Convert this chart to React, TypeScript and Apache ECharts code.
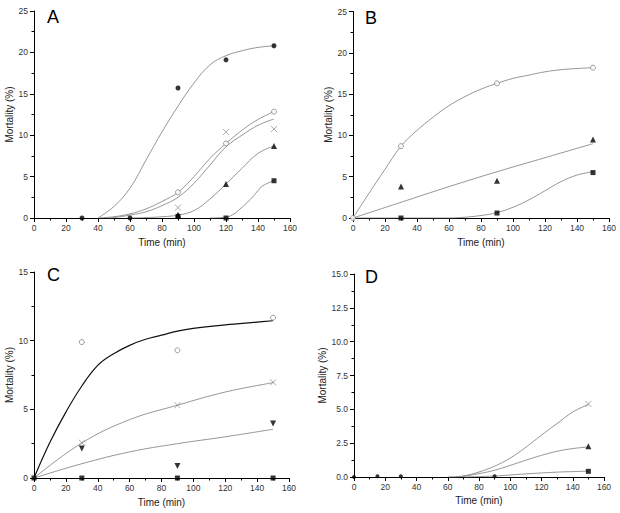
import React, { useEffect, useRef } from "react";
import * as echarts from "echarts";

const panelLetters = ["A", "B", "C", "D"];
const xTitle = "Time (min)";
const yTitle = "Mortality (%)";
const yMax = [25, 25, 15, 15];
const yInterval = [5, 5, 5, 2.5];

// ---------- Panel A ----------
const aFilledCircleT = [30, 60, 90, 120, 150];
const aFilledCircle = [0, 0, 15.7, 19.1, 20.8];
const aOpenCircleT = [90, 120, 150];
const aOpenCircle = [3.1, 9.0, 12.85];
const aCrossT = [90, 120, 150];
const aCross = [1.25, 10.4, 10.75];
const aTriangleT = [90, 120, 150];
const aTriangle = [0.4, 4.1, 8.7];
const aSquareT = [90, 120, 150];
const aSquare = [0.2, 0, 4.5];

const aFitFilledT = [40, 50, 60, 70, 80, 90, 100, 110, 120, 130, 140, 150];
const aFitFilled = [0, 1.4, 3.6, 7.0, 10.4, 13.5, 16.3, 18.5, 19.6, 20.2, 20.6, 20.8];
const aFitOpenT = [40, 50, 60, 70, 80, 90, 100, 110, 120, 130, 140, 150];
const aFitOpen = [0, 0.15, 0.5, 1.1, 2.0, 3.1, 5.0, 7.2, 9.0, 10.6, 11.9, 12.85];
const aFitCrossT = [45, 50, 60, 70, 80, 90, 100, 110, 120, 130, 140, 150];
const aFitCross = [0, 0.05, 0.35, 0.75, 1.5, 2.5, 4.2, 6.4, 8.6, 10.0, 11.2, 11.95];
const aFitTriangleT = [60, 70, 80, 90, 100, 110, 120, 130, 140, 150];
const aFitTriangle = [0, 0.05, 0.15, 0.35, 0.9, 2.3, 4.1, 6.0, 7.8, 8.7];
const aFitSquareT = [110, 120, 125, 130, 135, 140, 143, 150];
const aFitSquare = [0, 0.1, 0.5, 1.3, 2.2, 3.3, 3.9, 4.5];

// ---------- Panel B ----------
const bOpenT = [0, 30, 90, 150];
const bOpen = [0, 8.7, 16.3, 18.2];
const bTriangleT = [30, 90, 150];
const bTriangle = [3.8, 4.5, 9.5];
const bSquareT = [30, 90, 150];
const bSquare = [0, 0.6, 5.5];

const bFitOpenT = [0, 10, 20, 30, 40, 50, 60, 70, 80, 90, 100, 110, 120, 130, 140, 150];
const bFitOpen = [0, 3.0, 5.9, 8.7, 10.6, 12.2, 13.6, 14.7, 15.6, 16.3, 16.9, 17.3, 17.7, 17.95, 18.1, 18.2];
const bFitTriangleT = [0, 30, 60, 90, 120, 150];
const bFitTriangle = [0, 1.9, 3.8, 5.6, 7.3, 9.0];
const bFitSquareT = [0, 30, 60, 70, 80, 90, 100, 110, 120, 130, 140, 150];
const bFitSquare = [0, 0, 0, 0.1, 0.3, 0.65, 1.3, 2.2, 3.3, 4.4, 5.2, 5.6];

// ---------- Panel C ----------
const cOpenT = [30, 90, 150];
const cOpen = [9.9, 9.3, 11.67];
const cCrossT = [30, 90, 150];
const cCross = [2.57, 5.3, 6.97];
const cInvTriangleT = [30, 90, 150];
const cInvTriangle = [2.14, 0.87, 3.96];
const cSquareT = [0, 30, 90, 150];
const cSquare = [0, 0, 0, 0];

const cFitOpenT = [0, 10, 20, 30, 40, 50, 60, 70, 80, 90, 100, 120, 140, 150];
const cFitOpen = [0, 2.6, 4.8, 6.7, 8.2, 9.05, 9.66, 10.1, 10.4, 10.7, 10.9, 11.15, 11.35, 11.45];
const cFitCrossT = [0, 30, 60, 90, 120, 150];
const cFitCross = [0, 2.55, 4.25, 5.3, 6.26, 6.94];
const cFitInvTriangleT = [0, 30, 60, 90, 120, 150];
const cFitInvTriangle = [0, 1.04, 1.9, 2.5, 3.0, 3.55];

// ---------- Panel D ----------
const dDotsT = [0, 15, 30, 90];
const dDots = [0, 0.05, 0.05, 0.05];
const dCrossT = [150];
const dCross = [5.4];
const dTriangleT = [150];
const dTriangle = [2.27];
const dSquareT = [150];
const dSquare = [0.42];

const dFitCrossT = [60, 70, 80, 90, 100, 110, 120, 130, 140, 150];
const dFitCross = [0, 0.08, 0.37, 0.8, 1.4, 2.2, 3.1, 3.95, 4.8, 5.36];
const dFitTriangleT = [65, 70, 80, 90, 100, 110, 120, 130, 140, 150];
const dFitTriangle = [0, 0.05, 0.25, 0.5, 0.86, 1.24, 1.6, 1.9, 2.1, 2.22];
const dFitSquareT = [70, 90, 100, 110, 120, 130, 140, 150];
const dFitSquare = [0, 0.07, 0.15, 0.23, 0.3, 0.36, 0.4, 0.43];

const zip = (t: number[], v: number[]) => t.map((x, i) => [x, v[i]]);

const FONT = "'Liberation Sans', Arial, sans-serif";
const CROSS = "path://M0,0L10,10M10,0L0,10";

function fit(idx: number, t: number[], v: number[], color = "#8a8a8a", width = 0.9) {
  return {
    type: "line",
    xAxisIndex: idx,
    yAxisIndex: idx,
    data: zip(t, v),
    smooth: 0.4,
    showSymbol: false,
    symbol: "none",
    silent: true,
    lineStyle: { color, width },
    z: 2,
  };
}

function marks(idx: number, t: number[], v: number[], kind: string) {
  const base: any = {
    type: "scatter",
    xAxisIndex: idx,
    yAxisIndex: idx,
    data: zip(t, v),
    silent: true,
    z: 5,
  };
  if (kind === "filledCircle") {
    base.symbol = "circle";
    base.symbolSize = 5;
    base.itemStyle = { color: "#000" };
  } else if (kind === "smallDot") {
    base.symbol = "circle";
    base.symbolSize = 4;
    base.itemStyle = { color: "#000" };
  } else if (kind === "openCircle") {
    base.symbol = "circle";
    base.symbolSize = 5;
    base.itemStyle = { color: "#fff", borderColor: "#777", borderWidth: 0.9 };
  } else if (kind === "cross") {
    base.symbol = CROSS;
    base.symbolSize = 6;
    base.itemStyle = { color: "none", borderColor: "#888", borderWidth: 0.9 };
  } else if (kind === "triangle") {
    base.symbol = "triangle";
    base.symbolSize = 6;
    base.itemStyle = { color: "#000" };
  } else if (kind === "invTriangle") {
    base.symbol = "triangle";
    base.symbolRotate = 180;
    base.symbolSize = 6;
    base.itemStyle = { color: "#000" };
  } else if (kind === "square") {
    base.symbol = "rect";
    base.symbolSize = 5;
    base.itemStyle = { color: "#000" };
  }
  return base;
}

const grids = [
  { left: 34, top: 11, width: 256, height: 207 },
  { left: 353, top: 11.5, width: 256, height: 206.5 },
  { left: 34, top: 272, width: 255, height: 206 },
  { left: 354, top: 274, width: 250, height: 203 },
];
const yNameGaps = [20, 20, 20, 21];
const xNameGaps = [19, 19, 19, 18];
const letterPos = [
  [47, 8],
  [365, 9],
  [47, 266],
  [365, 268],
];

export default function App() {
  const ref = useRef<HTMLDivElement>(null);
  useEffect(() => {
    if (!ref.current) return;
    const chart = echarts.init(ref.current, undefined, { renderer: "svg" });
    const axisLine = { show: true, onZero: false, lineStyle: { color: "#000", width: 1 } };
    const option: any = {
      animation: false,
      backgroundColor: "#fff",
      grid: grids.map((g) => ({ ...g, containLabel: false })),
      xAxis: grids.map((_, i) => ({
        type: "value",
        gridIndex: i,
        min: 0,
        max: 160,
        interval: 20,
        name: xTitle,
        nameLocation: "middle",
        nameGap: xNameGaps[i],
        nameTextStyle: { fontFamily: FONT, fontSize: 10, color: "#222" },
        axisLine,
        axisTick: { show: true, length: 4, lineStyle: { color: "#000" } },
        minorTick: { show: true, splitNumber: 2, length: 2.5, lineStyle: { color: "#000" } },
        axisLabel: { fontFamily: FONT, fontSize: 8.5, color: "#333", margin: 5 },
        splitLine: { show: false },
        minorSplitLine: { show: false },
      })),
      yAxis: grids.map((_, i) => ({
        type: "value",
        gridIndex: i,
        min: 0,
        max: yMax[i],
        interval: yInterval[i],
        name: yTitle,
        nameLocation: "middle",
        nameGap: yNameGaps[i],
        nameRotate: 90,
        nameTextStyle: { fontFamily: FONT, fontSize: 10, color: "#222" },
        axisLine,
        axisTick: { show: true, length: 4, lineStyle: { color: "#000" } },
        minorTick: { show: true, splitNumber: 2, length: 2.5, lineStyle: { color: "#000" } },
        axisLabel: {
          fontFamily: FONT,
          fontSize: 8.5,
          color: "#333",
          margin: 6,
          formatter: i === 3 ? (v: number) => v.toFixed(1) : (v: number) => String(v),
        },
        splitLine: { show: false },
        minorSplitLine: { show: false },
      })),
      graphic: panelLetters.map((l, i) => ({
        type: "text",
        left: letterPos[i][0],
        top: letterPos[i][1],
        style: { text: l, font: `18px ${FONT}`, fill: "#000" },
      })),
      series: [
        // A
        fit(0, aFitFilledT, aFitFilled),
        fit(0, aFitOpenT, aFitOpen),
        fit(0, aFitCrossT, aFitCross),
        fit(0, aFitTriangleT, aFitTriangle),
        fit(0, aFitSquareT, aFitSquare),
        marks(0, aFilledCircleT, aFilledCircle, "filledCircle"),
        marks(0, aOpenCircleT, aOpenCircle, "openCircle"),
        marks(0, aCrossT, aCross, "cross"),
        marks(0, aTriangleT, aTriangle, "triangle"),
        marks(0, aSquareT, aSquare, "square"),
        // B
        fit(1, bFitOpenT, bFitOpen),
        fit(1, bFitTriangleT, bFitTriangle),
        fit(1, bFitSquareT, bFitSquare),
        marks(1, bOpenT, bOpen, "openCircle"),
        marks(1, bTriangleT, bTriangle, "triangle"),
        marks(1, bSquareT, bSquare, "square"),
        // C
        fit(2, cFitOpenT, cFitOpen, "#111", 1.2),
        fit(2, cFitCrossT, cFitCross),
        fit(2, cFitInvTriangleT, cFitInvTriangle),
        marks(2, cOpenT, cOpen, "openCircle"),
        marks(2, cCrossT, cCross, "cross"),
        marks(2, cInvTriangleT, cInvTriangle, "invTriangle"),
        marks(2, cSquareT, cSquare, "square"),
        // D
        fit(3, dFitCrossT, dFitCross),
        fit(3, dFitTriangleT, dFitTriangle),
        fit(3, dFitSquareT, dFitSquare),
        marks(3, dDotsT, dDots, "smallDot"),
        marks(3, dCrossT, dCross, "cross"),
        marks(3, dTriangleT, dTriangle, "triangle"),
        marks(3, dSquareT, dSquare, "square"),
      ],
    };
    chart.setOption(option);
    return () => chart.dispose();
  }, []);
  return (
    <div
      ref={ref}
      style={{ position: "fixed", left: 0, top: 0, width: 620, height: 513, background: "#fff" }}
    />
  );
}
